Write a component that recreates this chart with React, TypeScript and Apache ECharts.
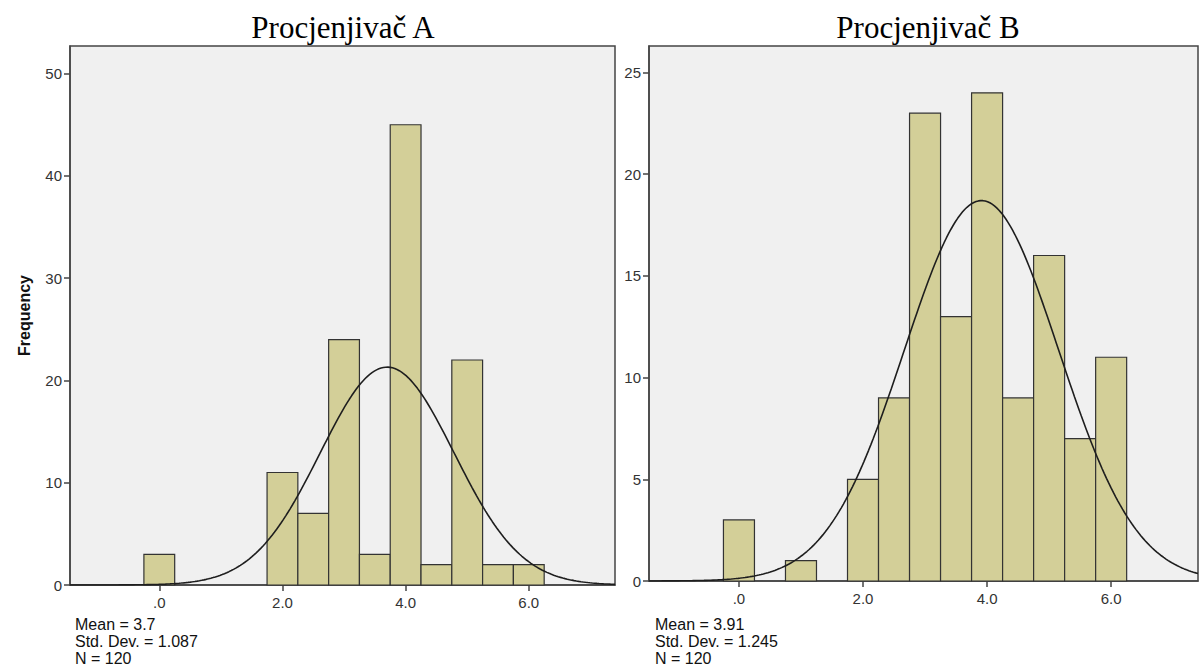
import React, { useEffect, useRef } from "react";
import * as echarts from "echarts";

// Histogram bins (bin centre, frequency), bin width 0.5
const binWidth = 0.5;
const binCentersA = [0, 2, 2.5, 3, 3.5, 4, 4.5, 5, 5.5, 6];
const countsA = [3, 11, 7, 24, 3, 45, 2, 22, 2, 2];
const binCentersB = [0, 1, 2, 2.5, 3, 3.5, 4, 4.5, 5, 5.5, 6];
const countsB = [3, 1, 5, 9, 23, 13, 24, 9, 16, 7, 11];

// Descriptive statistics shown under each histogram
const meanA = 3.7;
const sdA = 1.087;
const meanB = 3.91;
const sdB = 1.245;
const nTotal = 120;

// Height of the fitted normal curve at its mean
const curvePeakA = 21.3;
const curvePeakB = 18.7;

const titles = ["Procjenjivač A", "Procjenjivač B"];
const xTicks = [0, 2, 4, 6];
const yTicksA = [0, 10, 20, 30, 40, 50];
const yTicksB = [0, 5, 10, 15, 20, 25];

const xMin = -1.45;
const xMax = 7.4;
const yMaxA = 52.7;
const yMaxB = 26.3;

const barFill = "#d3cf98";
const barStroke = "#333";
const frameColor = "#444";
const sansFont = '"Liberation Sans", Arial, sans-serif';
const serifFont = '"Liberation Serif", "Times New Roman", serif';

function normalCurve(mean: number, sd: number, peak: number) {
  const pts: number[][] = [];
  const steps = 240;
  for (let i = 0; i <= steps; i++) {
    const x = xMin + ((xMax - xMin) * i) / steps;
    const z = (x - mean) / sd;
    pts.push([x, peak * Math.exp(-0.5 * z * z)]);
  }
  return pts;
}

function histRenderItem(params: any, api: any) {
  const x = api.value(0);
  const y = api.value(1);
  const p0 = api.coord([x - binWidth / 2, y]);
  const p1 = api.coord([x + binWidth / 2, 0]);
  return {
    type: "rect",
    shape: { x: p0[0], y: p0[1], width: p1[0] - p0[0], height: p1[1] - p0[1] },
    style: { fill: barFill, stroke: barStroke, lineWidth: 1.2 },
  };
}

function xAxisFor(gridIndex: number) {
  return {
    type: "value",
    gridIndex,
    min: xMin,
    max: xMax,
    splitLine: { show: false },
    axisLine: { show: true, onZero: false, lineStyle: { color: frameColor, width: 1.5 } },
    axisTick: {
      show: true,
      inside: false,
      length: 6,
      customValues: xTicks,
      lineStyle: { color: frameColor, width: 1.5 },
    },
    axisLabel: {
      customValues: xTicks,
      margin: 10,
      fontSize: 15,
      color: "#333",
      fontFamily: sansFont,
      formatter: (v: number) => (v === 0 ? ".0" : v.toFixed(1)),
    },
  };
}

function yAxisFor(gridIndex: number, max: number, ticks: number[], name: string) {
  return {
    type: "value",
    gridIndex,
    min: 0,
    max,
    name,
    nameLocation: "middle",
    nameRotate: 90,
    nameGap: 38,
    nameTextStyle: { fontSize: 16, fontWeight: "bold", color: "#111", fontFamily: sansFont },
    splitLine: { show: false },
    axisLine: { show: true, onZero: false, lineStyle: { color: frameColor, width: 1.5 } },
    axisTick: {
      show: true,
      inside: false,
      length: 6,
      customValues: ticks,
      lineStyle: { color: frameColor, width: 1.5 },
    },
    axisLabel: {
      customValues: ticks,
      margin: 8,
      fontSize: 15,
      color: "#333",
      fontFamily: sansFont,
    },
  };
}

function statsText(mean: number, sd: number) {
  return `Mean = ${mean}\nStd. Dev. = ${sd.toFixed(3)}\nN = ${nTotal}`;
}

export default function App() {
  const ref = useRef<HTMLDivElement>(null);

  useEffect(() => {
    if (!ref.current) return;
    const chart = echarts.init(ref.current, undefined, { renderer: "svg" });

    const dataA = binCentersA.map((c, i) => [c, countsA[i]]);
    const dataB = binCentersB.map((c, i) => [c, countsB[i]]);

    chart.setOption({
      animation: false,
      backgroundColor: "#ffffff",
      grid: [
        {
          left: 70,
          top: 46,
          width: 545,
          height: 539,
          show: true,
          backgroundColor: "#f0f0f0",
          borderColor: frameColor,
          borderWidth: 1.5,
        },
        {
          left: 649,
          top: 46,
          width: 549,
          height: 535,
          show: true,
          backgroundColor: "#f0f0f0",
          borderColor: frameColor,
          borderWidth: 1.5,
        },
      ],
      xAxis: [xAxisFor(0), xAxisFor(1)],
      yAxis: [yAxisFor(0, yMaxA, yTicksA, "Frequency"), yAxisFor(1, yMaxB, yTicksB, "")],
      series: [
        {
          type: "custom",
          xAxisIndex: 0,
          yAxisIndex: 0,
          renderItem: histRenderItem,
          encode: { x: 0, y: 1 },
          data: dataA,
        },
        {
          type: "line",
          xAxisIndex: 0,
          yAxisIndex: 0,
          data: normalCurve(meanA, sdA, curvePeakA),
          showSymbol: false,
          smooth: false,
          lineStyle: { color: "#1e1e1e", width: 1.6 },
          z: 5,
        },
        {
          type: "custom",
          xAxisIndex: 1,
          yAxisIndex: 1,
          renderItem: histRenderItem,
          encode: { x: 0, y: 1 },
          data: dataB,
        },
        {
          type: "line",
          xAxisIndex: 1,
          yAxisIndex: 1,
          data: normalCurve(meanB, sdB, curvePeakB),
          showSymbol: false,
          smooth: false,
          lineStyle: { color: "#1e1e1e", width: 1.6 },
          z: 5,
        },
      ],
      graphic: [
        {
          type: "text",
          x: 343,
          y: 27,
          style: {
            text: titles[0],
            fontSize: 31,
            fontFamily: serifFont,
            fill: "#000",
            textAlign: "center",
            textVerticalAlign: "middle",
          },
        },
        {
          type: "text",
          x: 928,
          y: 27,
          style: {
            text: titles[1],
            fontSize: 31,
            fontFamily: serifFont,
            fill: "#000",
            textAlign: "center",
            textVerticalAlign: "middle",
          },
        },
        {
          type: "text",
          x: 75,
          y: 616,
          style: {
            text: statsText(meanA, sdA),
            fontSize: 16,
            lineHeight: 17,
            fontFamily: sansFont,
            fill: "#111",
          },
        },
        {
          type: "text",
          x: 655,
          y: 616,
          style: {
            text: statsText(meanB, sdB),
            fontSize: 16,
            lineHeight: 17,
            fontFamily: sansFont,
            fill: "#111",
          },
        },
      ],
    });

    return () => chart.dispose();
  }, []);

  return (
    <div
      ref={ref}
      style={{ position: "fixed", left: 0, top: 0, width: 1203, height: 670, background: "#fff" }}
    />
  );
}
